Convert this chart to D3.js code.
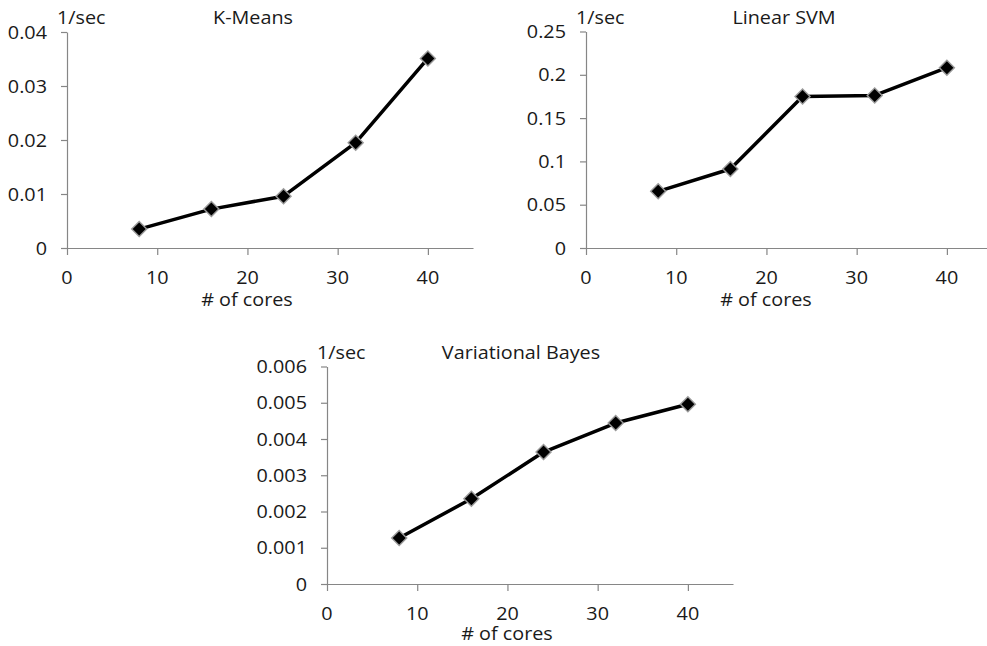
<!DOCTYPE html>
<html>
<head>
<meta charset="utf-8">
<script src="https://cdn.jsdelivr.net/npm/d3@7"></script>
<style>
  html, body { margin: 0; padding: 0; background: #fff; }
  svg { display: block; }
  text { font-family: "Open Sans", sans-serif; fill: #1a1a1a; }
</style>
</head>
<body>
<svg id="chart" width="987" height="646"></svg>
<script>
// ---- data ----
const cores = [8, 16, 24, 32, 40];
const xTicks = [0, 10, 20, 30, 40];
const xDomain = [0, 45];

const kmeansValues = [0.0035, 0.0072, 0.0096, 0.0195, 0.0351];
const kmeansTicks = [0, 0.01, 0.02, 0.03, 0.04];

const svmValues = [0.0654, 0.0912, 0.175, 0.1762, 0.2082];
const svmTicks = [0, 0.05, 0.1, 0.15, 0.2, 0.25];

const vbValues = [0.00127, 0.00235, 0.00364, 0.00444, 0.00496];
const vbTicks = [0, 0.001, 0.002, 0.003, 0.004, 0.005, 0.006];

const titles = ["K-Means", "Linear SVM", "Variational Bayes"];
const unitLabel = "1/sec";
const xLabel = "# of cores";

// ---- layout ----
const panels = [
  { values: kmeansValues, ticks: kmeansTicks, title: titles[0], left: 67,  top: 32,  bottom: 248, right: 473, titleX: 253, headY: 24,  xLabelX: 247, xLabelY: 306 },
  { values: svmValues,    ticks: svmTicks,    title: titles[1], left: 586, top: 31.5, bottom: 248, right: 992, titleX: 784, headY: 24,  xLabelX: 766, xLabelY: 306 },
  { values: vbValues,     ticks: vbTicks,     title: titles[2], left: 327, top: 366.5, bottom: 584, right: 733, titleX: 521, headY: 359, xLabelX: 507, xLabelY: 640 }
];

const svg = d3.select("#chart");
const FS = 18, SX = 1.1;
const axisColor = "#868686";

function stretchedText(g, x, y, str, anchor) {
  return g.append("text")
    .attr("transform", `translate(${x},${y}) scale(${SX},1)`)
    .attr("text-anchor", anchor)
    .style("font-size", FS + "px")
    .text(str);
}

panels.forEach(p => {
  const x = d3.scaleLinear().domain(xDomain).range([p.left, p.right]);
  const yMax = p.ticks[p.ticks.length - 1];
  const y = d3.scaleLinear().domain([0, yMax]).range([p.bottom, p.top]);
  const g = svg.append("g");

  // x axis
  const xa = g.append("g").attr("transform", `translate(0,${p.bottom})`)
    .call(d3.axisBottom(x).tickValues(xTicks).tickSize(7).tickSizeOuter(0).tickFormat(""));
  xa.selectAll("path, line").attr("stroke", axisColor).attr("stroke-width", 1.2);
  // y axis
  const ya = g.append("g").attr("transform", `translate(${p.left},0)`)
    .call(d3.axisLeft(y).tickValues(p.ticks).tickSize(6).tickSizeOuter(0).tickFormat(""));
  ya.selectAll("path, line").attr("stroke", axisColor).attr("stroke-width", 1.2);

  // tick labels
  xTicks.forEach(t => stretchedText(g, x(t), p.bottom + 35.5, String(t), "middle"));
  p.ticks.forEach(t => stretchedText(g, p.left - 20, y(t) + 6.5, String(t), "end"));

  // headers
  stretchedText(g, p.left - 10, p.headY, unitLabel, "start");
  stretchedText(g, p.titleX, p.headY, p.title, "middle");
  stretchedText(g, p.xLabelX, p.xLabelY, xLabel, "middle");

  // line
  const pts = cores.map((c, i) => [c, p.values[i]]);
  g.append("path")
    .datum(pts)
    .attr("fill", "none")
    .attr("stroke", "#000")
    .attr("stroke-width", 3.5)
    .attr("stroke-linejoin", "round")
    .attr("d", d3.line().x(d => x(d[0])).y(d => y(d[1])));

  // markers
  const diamond = (cx, cy, r) => `M${cx},${cy - r}L${cx + r},${cy}L${cx},${cy + r}L${cx - r},${cy}Z`;
  g.selectAll("path.mk-o").data(pts).enter().append("path")
    .attr("class", "mk-o")
    .attr("d", d => diamond(x(d[0]), y(d[1]), 8.5))
    .attr("fill", "#9a9a9a");
  g.selectAll("path.mk").data(pts).enter().append("path")
    .attr("class", "mk")
    .attr("d", d => diamond(x(d[0]), y(d[1]), 6.5))
    .attr("fill", "#000");
});
</script>
</body>
</html>
